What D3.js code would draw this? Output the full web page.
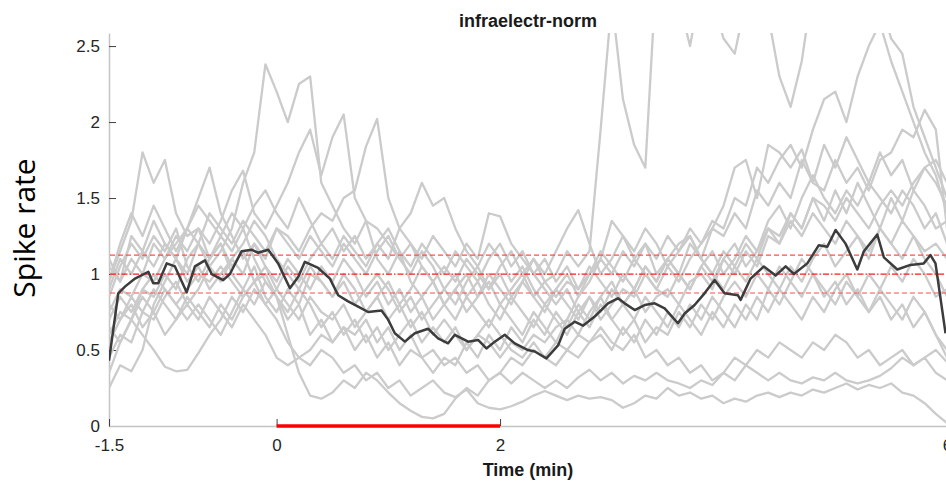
<!DOCTYPE html>
<html>
<head>
<meta charset="utf-8">
<script src="https://cdn.jsdelivr.net/npm/d3@7"></script>
<style>
  body { margin: 0; background: #fff; }
  svg { display: block; }
</style>
</head>
<body>
<div id="chart"></div>
<script>
// time axis in minutes, one gray trace per recorded unit
let xTickValues = [-1.5, 0, 2, 6];
let yTickValues = [0, 0.5, 1, 1.5, 2, 2.5];
let refLevels = [0.875, 1, 1.125];
let stimWindow = [0, 2];

// sample times of the gray traces (every 0.1 min, -1.5 .. 6)
let traceTimes = [
  -1.5, -1.4, -1.3, -1.2, -1.1, -1.0, -0.9, -0.8, -0.7, -0.6,
  -0.5, -0.4, -0.3, -0.2, -0.1, 0.0, 0.1, 0.2, 0.3, 0.4,
  0.5, 0.6, 0.7, 0.8, 0.9, 1.0, 1.1, 1.2, 1.3, 1.4,
  1.5, 1.6, 1.7, 1.8, 1.9, 2.0, 2.1, 2.2, 2.3, 2.4,
  2.5, 2.6, 2.7, 2.8, 2.9, 3.0, 3.1, 3.2, 3.3, 3.4,
  3.5, 3.6, 3.7, 3.8, 3.9, 4.0, 4.1, 4.2, 4.3, 4.4,
  4.5, 4.6, 4.7, 4.8, 4.9, 5.0, 5.1, 5.2, 5.3, 5.4,
  5.5, 5.6, 5.7, 5.8, 5.9, 6.0
];

let trace01 = [
  0.85, 1.05, 1.2, 1.1, 1.25, 1.15, 1.3, 1.05, 0.95, 1.1,
  1.2, 1.0, 0.9, 1.05, 0.85, 0.75, 0.9, 0.8, 1.0, 0.95,
  0.85, 1.0, 0.9, 0.75, 0.85, 0.95, 0.8, 0.9, 1.05, 0.95,
  0.8, 0.9, 1.0, 0.85, 0.95, 0.8, 0.9, 1.0, 0.85, 0.95,
  1.0, 1.15, 1.05, 1.15, 1.95, 2.8, 2.15, 1.85, 1.7, 3.0,
  3.3, 2.8, 2.5, 2.9, 2.8, 2.55, 2.45, 2.8, 3.0, 2.7,
  2.3, 2.1, 2.4, 2.9, 3.2, 3.3, 3.1, 2.9, 2.75, 2.8,
  2.55, 2.45, 2.1, 1.9, 1.7, 1.5
];
let trace02 = [
  0.6, 0.75, 0.7, 0.9, 0.85, 1.0, 0.9, 1.1, 1.2, 1.05,
  1.15, 1.3, 1.6, 1.8, 2.38, 2.2, 2.0, 2.25, 2.3, 1.6,
  1.45, 1.3, 1.2, 1.35, 1.1, 1.0, 1.15, 0.95, 0.85, 0.95,
  0.8, 0.7, 0.85, 0.75, 0.65, 0.8, 0.7, 0.6, 0.75, 0.65,
  0.55, 0.7, 0.6, 0.75, 0.85, 0.7, 0.8, 0.9, 0.75, 0.85,
  0.9, 0.8, 0.95, 1.0, 0.9, 1.1, 1.0, 1.15, 1.05, 1.25,
  1.2, 1.4, 1.3, 1.5, 1.35, 1.55, 1.4, 1.6, 1.45, 1.3,
  1.5, 1.35, 1.55, 1.45, 1.3, 1.35
];
let trace03 = [
  0.95, 1.15, 1.35, 1.8, 1.6, 1.75, 1.4, 1.25, 1.3, 1.1,
  1.2, 1.05, 1.15, 0.95, 1.0, 0.85, 0.7, 0.8, 0.6, 0.7,
  0.55, 0.65, 0.5, 0.6, 0.45, 0.55, 0.4, 0.5, 0.45, 0.35,
  0.45, 0.4, 0.55, 0.45, 0.6, 0.5, 0.65, 0.55, 0.7, 0.6,
  0.75, 0.65, 0.8, 0.7, 0.85, 0.95, 0.8, 0.9, 1.05, 0.95,
  1.1, 1.0, 1.2, 1.1, 1.3, 1.25, 1.4, 1.3, 1.55, 1.45,
  1.6, 1.5, 1.75, 1.6, 1.85, 1.7, 1.9, 1.75, 1.6, 1.8,
  1.65, 1.75, 1.55, 1.7, 1.6, 1.45
];
let trace04 = [
  0.75, 0.9, 0.85, 1.0, 0.95, 1.1, 1.2, 1.3, 1.5, 1.7,
  1.4, 1.25, 1.1, 1.2, 1.05, 0.95, 1.1, 1.0, 0.9, 1.05,
  0.95, 1.1, 1.0, 0.85, 0.95, 0.8, 0.9, 0.75, 0.85, 0.7,
  0.8, 0.9, 0.75, 0.85, 1.0, 0.9, 0.8, 0.95, 0.85, 0.75,
  0.9, 1.0, 0.85, 0.95, 1.1, 1.0, 1.15, 1.05, 1.2, 1.1,
  1.25, 1.15, 1.3, 1.2, 1.35, 1.3, 1.5, 1.45, 1.7, 1.6,
  1.75, 1.85, 1.7, 1.95, 2.15, 2.2, 2.0, 2.3, 2.5, 2.65,
  2.4, 2.2, 2.0, 1.8, 1.65, 1.4
];
let trace05 = [
  1.05, 0.95, 1.1, 1.0, 1.2, 1.1, 1.25, 1.15, 1.3, 1.2,
  1.35, 1.55, 1.68, 1.4, 1.3, 1.45, 1.6, 1.8, 1.95, 1.65,
  1.9, 2.05, 1.5, 1.35, 1.3, 1.2, 1.1, 1.0, 1.15, 1.05,
  0.9, 1.0, 0.85, 0.95, 0.8, 0.7, 0.85, 0.75, 0.65, 0.8,
  0.7, 0.6, 0.75, 0.65, 0.8, 0.7, 0.6, 0.7, 0.55, 0.65,
  0.6, 0.75, 0.65, 0.8, 0.7, 0.85, 0.95, 0.85, 1.0, 0.9,
  1.05, 0.95, 1.1, 1.0, 0.85, 0.95, 0.8, 0.9, 0.75, 0.85,
  0.7, 0.8, 0.65, 0.75, 0.6, 0.45
];
let trace06 = [
  0.45, 0.6, 0.55, 0.75, 0.7, 0.85, 0.95, 0.8, 0.9, 1.05,
  0.95, 1.1, 1.0, 1.2, 1.1, 1.3, 1.25, 1.15, 1.3, 1.4,
  1.35, 1.5, 1.55, 1.84, 2.02, 1.5, 1.3, 1.4, 1.6, 1.45,
  1.5, 1.3, 1.15, 1.05, 1.2, 1.1, 0.95, 1.05, 0.9, 0.8,
  0.9, 0.8, 0.7, 0.85, 0.75, 0.9, 0.8, 0.7, 0.85, 0.75,
  0.65, 0.8, 0.7, 0.6, 0.75, 0.65, 0.8, 0.7, 0.85, 0.75,
  0.9, 0.8, 0.7, 0.85, 0.75, 0.9, 1.0, 0.85, 1.0, 0.9,
  1.05, 0.95, 1.1, 1.0, 0.85, 0.9
];
let trace07 = [
  0.25, 0.4, 0.36, 0.5, 0.8, 0.95, 1.1, 1.0, 1.2, 1.1,
  1.25, 1.15, 1.3, 1.1, 0.95, 0.85, 0.6, 0.35, 0.2, 0.18,
  0.22, 0.3, 0.25, 0.35, 0.3, 0.22, 0.15, 0.1, 0.06, 0.05,
  0.08, 0.18, 0.25, 0.2, 0.3, 0.35, 0.45, 0.4, 0.5, 0.45,
  0.55, 0.5, 0.6, 0.55, 0.65, 0.55, 0.5, 0.6, 0.45, 0.5,
  0.4, 0.45, 0.35, 0.4, 0.3, 0.35, 0.45, 0.4, 0.5, 0.45,
  0.55, 0.5, 0.45, 0.55, 0.5, 0.6, 0.55, 0.45, 0.5, 0.4,
  0.45, 0.5, 0.4, 0.45, 0.35, 0.3
];
let trace08 = [
  0.65, 0.55, 0.7, 0.6, 0.5, 0.39, 0.36, 0.37, 0.48, 0.6,
  0.7, 0.85, 0.75, 0.9, 0.8, 0.7, 0.55, 0.45, 0.4, 0.5,
  0.45, 0.35, 0.4, 0.3, 0.35, 0.25, 0.3, 0.2, 0.25, 0.3,
  0.22, 0.19, 0.24, 0.15, 0.12, 0.11, 0.13, 0.16, 0.2, 0.23,
  0.2, 0.17, 0.2, 0.18, 0.19, 0.17, 0.12, 0.15, 0.2, 0.18,
  0.25, 0.2, 0.22, 0.18, 0.2, 0.15, 0.18, 0.16, 0.2, 0.22,
  0.19, 0.22, 0.2, 0.24, 0.22, 0.25, 0.28, 0.24, 0.27, 0.25,
  0.28, 0.22, 0.2, 0.15, 0.08, 0.02
];
let trace09 = [
  0.9, 1.1, 1.0, 1.15, 1.05, 1.2, 1.1, 0.95, 1.05, 0.9,
  1.0, 1.1, 1.2, 1.35, 1.25, 1.1, 1.0, 0.9, 1.05, 0.95,
  0.85, 0.95, 0.8, 0.9, 1.0, 0.9, 0.75, 0.85, 0.7, 0.8,
  0.9, 0.8, 0.95, 1.05, 0.9, 1.0, 0.85, 0.95, 1.1, 1.0,
  1.15, 1.3, 1.42, 1.2, 1.0, 1.1, 1.25, 1.15, 1.3, 1.2,
  1.05, 1.15, 1.25, 1.1, 1.0, 0.9, 1.05, 0.95, 1.1, 1.0,
  0.9, 1.05, 0.95, 1.1, 1.2, 1.05, 1.15, 1.25, 1.1, 1.3,
  1.2, 1.1, 1.25, 1.15, 1.2, 1.1
];
let trace10 = [
  0.8, 0.7, 0.85, 0.75, 0.9, 0.8, 0.7, 0.85, 0.75, 0.65,
  0.8, 0.7, 0.85, 0.95, 0.8, 0.9, 1.05, 0.95, 1.1, 1.2,
  1.1, 1.25, 1.15, 1.05, 1.2, 1.1, 1.3, 1.2, 1.1, 1.25,
  1.15, 1.05, 1.2, 1.1, 1.4, 1.38, 1.2, 1.1, 1.0, 0.9,
  0.8, 0.9, 0.75, 0.85, 0.7, 0.8, 0.9, 0.85, 1.0, 0.9,
  1.05, 0.95, 1.1, 1.2, 1.3, 1.45, 1.7, 1.75, 1.5, 1.85,
  1.8, 1.7, 1.82, 1.6, 1.55, 1.75, 1.6, 1.7, 1.55, 1.75,
  1.8, 1.95, 1.9, 2.08, 1.95, 1.3
];
let trace11 = [
  0.55, 0.7, 0.8, 0.65, 0.75, 0.6, 0.7, 0.8, 0.7, 0.85,
  0.75, 0.65, 0.8, 0.7, 0.6, 0.45, 0.4, 0.45, 0.5, 0.6,
  0.55, 0.65, 0.6, 0.7, 0.55, 0.65, 0.5, 0.6, 0.45, 0.5,
  0.4, 0.45, 0.35, 0.4, 0.3, 0.35, 0.28, 0.35, 0.3, 0.25,
  0.3, 0.25, 0.32, 0.37, 0.3, 0.35, 0.28, 0.33, 0.3, 0.35,
  0.3, 0.28, 0.25, 0.3, 0.27, 0.35, 0.3, 0.4, 0.35, 0.3,
  0.35, 0.3, 0.28, 0.32, 0.3, 0.35, 0.3, 0.28, 0.3, 0.33,
  0.38, 0.45, 0.4, 0.45, 0.5, 0.42
];
let trace12 = [
  0.7, 0.85, 0.75, 0.9, 1.0, 0.9, 0.8, 0.9, 1.0, 0.95,
  1.05, 0.95, 0.85, 0.95, 1.05, 0.9, 0.8, 0.7, 0.85, 0.75,
  0.7, 0.8, 0.65, 0.75, 0.85, 0.7, 0.8, 0.65, 0.75, 0.6,
  0.7, 0.6, 0.5, 0.6, 0.55, 0.45, 0.55, 0.5, 0.6, 0.55,
  0.65, 0.7, 0.85, 1.0, 1.1, 1.35, 1.25, 1.1, 1.2, 1.0,
  1.1, 1.2, 1.25, 1.1, 1.0, 1.15, 1.05, 1.2, 1.1, 1.3,
  1.25, 1.4, 1.3, 1.5, 1.45, 1.35, 1.5, 1.4, 1.3, 1.45,
  1.55, 1.45, 1.6, 1.7, 1.75, 1.6
];
let trace13 = [
  1.1, 0.95, 1.25, 1.15, 1.35, 1.2, 1.1, 1.3, 1.2, 1.4,
  1.3, 1.2, 1.35, 1.25, 1.15, 1.3, 1.2, 1.1, 1.25, 1.15,
  1.05, 1.2, 1.1, 1.0, 1.15, 1.25, 1.1, 1.2, 1.05, 0.95,
  1.05, 0.95, 1.1, 1.0, 0.9, 1.05, 1.15, 1.0, 1.1, 0.95,
  0.85, 0.95, 0.9, 1.05, 0.95, 0.85, 1.0, 0.9, 1.05, 0.95,
  1.1, 1.0, 0.9, 1.05, 0.95, 1.1, 1.2, 1.05, 1.15, 1.3,
  1.2, 1.35, 1.25, 1.4, 1.3, 1.2, 1.35, 1.25, 1.15, 1.3,
  1.2, 1.35, 1.25, 1.1, 1.0, 0.85
];
let trace14 = [
  0.35, 0.55, 0.7, 0.85, 0.75, 0.9, 0.8, 0.7, 0.8, 0.7,
  0.6, 0.75, 0.9, 0.8, 0.95, 0.85, 0.75, 0.9, 0.8, 0.65,
  0.75, 0.6, 0.7, 0.55, 0.65, 0.5, 0.6, 0.7, 0.55, 0.65,
  0.55, 0.65, 0.5, 0.6, 0.7, 0.6, 0.5, 0.45, 0.55, 0.45,
  0.4, 0.5, 0.45, 0.55, 0.6, 0.5, 0.65, 0.55, 0.7, 0.6,
  0.75, 0.65, 0.8, 0.7, 0.85, 0.75, 0.65, 0.8, 0.7, 0.9,
  0.8, 0.95, 0.85, 1.0, 0.9, 0.8, 0.95, 0.85, 0.75, 0.9,
  0.8, 0.7, 0.85, 0.75, 0.6, 0.5
];
let trace15 = [
  0.95, 1.2, 1.4, 1.25, 1.45, 1.3, 1.15, 1.3, 1.45, 1.35,
  1.25, 1.4, 1.3, 1.45, 1.55, 1.4, 1.3, 1.5, 1.35, 1.2,
  1.3, 1.15, 1.25, 1.1, 1.2, 1.3, 1.15, 1.05, 1.2, 1.1,
  1.0, 1.15, 1.05, 0.95, 1.1, 1.2, 1.05, 1.15, 1.0, 1.1,
  0.95, 1.05, 0.9, 1.0, 1.15, 1.05, 0.95, 1.1, 1.0, 0.9,
  0.85, 1.0, 0.9, 1.05, 1.15, 1.0, 1.1, 1.25, 1.15, 1.35,
  1.45, 1.3, 1.5, 1.65, 1.5, 1.4, 1.55, 1.45, 1.6, 1.5,
  1.4, 1.55, 1.45, 1.3, 1.4, 1.2
];
let traces = [trace01, trace02, trace03, trace04, trace05, trace06, trace07, trace08,
              trace09, trace10, trace11, trace12, trace13, trace14, trace15];

// population mean (dark line)
let meanTime = [
  -1.5, -1.417, -1.357, -1.267, -1.148, -1.104, -1.059, -0.984, -0.91, -0.805,
  -0.731, -0.641, -0.581, -0.478, -0.418, -0.313, -0.224, -0.165, -0.075, 0.014,
  0.119, 0.193, 0.253, 0.372, 0.477, 0.551, 0.64, 0.73, 0.819, 0.939,
  0.998, 1.058, 1.148, 1.237, 1.356, 1.445, 1.535, 1.595, 1.714, 1.803,
  1.878, 1.953, 2.042, 2.131, 2.25, 2.31, 2.415, 2.519, 2.579, 2.668,
  2.742, 2.847, 2.966, 3.055, 3.115, 3.205, 3.294, 3.384, 3.473, 3.592,
  3.652, 3.741, 3.83, 3.92, 4.009, 4.129, 4.153, 4.242, 4.361, 4.466,
  4.556, 4.63, 4.75, 4.853, 4.929, 5.003, 5.092, 5.197, 5.256, 5.376,
  5.435, 5.555, 5.673, 5.792, 5.852, 5.897, 5.987
];
let meanRate = [
  0.43, 0.873, 0.917, 0.97, 1.015, 0.94, 0.94, 1.07, 1.05, 0.88,
  1.05, 1.09, 1.0, 0.96, 1.0, 1.15, 1.16, 1.14, 1.16, 1.07,
  0.906, 0.98, 1.08, 1.04, 0.97, 0.86, 0.82, 0.785, 0.75, 0.76,
  0.70, 0.61, 0.555, 0.61, 0.64, 0.577, 0.544, 0.60, 0.555, 0.566,
  0.51, 0.555, 0.60, 0.544, 0.50, 0.49, 0.445, 0.53, 0.64, 0.686,
  0.66, 0.72, 0.807, 0.84, 0.807, 0.763, 0.796, 0.807, 0.774, 0.676,
  0.74, 0.796, 0.873, 0.96, 0.873, 0.86, 0.83, 0.97, 1.05, 0.99,
  1.05, 1.0, 1.07, 1.19, 1.18, 1.29, 1.20, 1.03, 1.15, 1.26,
  1.11, 1.03, 1.06, 1.07, 1.125, 1.07, 0.61
];

let width = 946;
let height = 482;
let plotLeft = 109, plotRight = 947, plotTop = 33, plotBottom = 426;

let svg = d3.select('#chart').append('svg')
  .attr('width', width)
  .attr('height', height)
  .attr('font-family', 'Liberation Sans, Arial, sans-serif');

let x = d3.scaleLinear().domain([-1.5, 6]).range([plotLeft, plotRight]);
let y = d3.scaleLinear().domain([0, 2.586]).range([plotBottom, plotTop]);

svg.append('clipPath').attr('id', 'plotClip')
  .append('rect')
  .attr('x', plotLeft)
  .attr('y', plotTop)
  .attr('width', plotRight - plotLeft)
  .attr('height', plotBottom - plotTop);

// axes
let yAxis = d3.axisLeft(y)
  .tickValues(yTickValues)
  .tickSize(-7)
  .tickSizeOuter(0)
  .tickPadding(9)
  .tickFormat(d => String(d));

let xAxis = d3.axisBottom(x)
  .tickValues(xTickValues)
  .tickSize(-7)
  .tickSizeOuter(0)
  .tickPadding(13)
  .tickFormat(d => String(d));

let gy = svg.append('g')
  .attr('transform', 'translate(' + plotLeft + ',0)')
  .call(yAxis);

let gx = svg.append('g')
  .attr('transform', 'translate(0,' + plotBottom + ')')
  .call(xAxis);

[gx, gy].forEach(function(g) {
  g.select('.domain').attr('stroke', '#c4c4c4').attr('stroke-width', 1.5);
  g.selectAll('.tick line').attr('stroke', '#404040').attr('stroke-width', 1);
  g.selectAll('.tick text')
    .attr('fill', '#262626')
    .attr('font-size', 17)
    .attr('font-family', 'Liberation Sans, Arial, sans-serif');
});

let plot = svg.append('g').attr('clip-path', 'url(#plotClip)');

let traceLine = d3.line()
  .x((d, i) => x(traceTimes[i]))
  .y(d => y(d));

plot.selectAll('path.trace')
  .data(traces)
  .enter().append('path')
  .attr('class', 'trace')
  .attr('d', traceLine)
  .attr('fill', 'none')
  .attr('stroke', '#cbcbcb')
  .attr('stroke-width', 2.3)
  .attr('stroke-linejoin', 'round');

// reference band around baseline
plot.selectAll('line.ref')
  .data(refLevels)
  .enter().append('line')
  .attr('class', 'ref')
  .attr('x1', plotLeft + 1)
  .attr('x2', plotRight)
  .attr('y1', d => y(d))
  .attr('y2', d => y(d))
  .attr('stroke', d => d === 1 ? '#ff1a1a' : '#ff4d4d')
  .attr('stroke-width', 1.2)
  .attr('stroke-dasharray', d => d === 1 ? '6,2,1.5,2' : '5,3');

let meanLine = d3.line()
  .x((d, i) => x(meanTime[i]))
  .y(d => y(d));

plot.append('path')
  .datum(meanRate)
  .attr('d', meanLine)
  .attr('fill', 'none')
  .attr('stroke', '#3c3c3c')
  .attr('stroke-width', 2.5)
  .attr('stroke-linejoin', 'round');

// stimulation period
svg.append('line')
  .attr('x1', x(stimWindow[0]))
  .attr('x2', x(stimWindow[1]))
  .attr('y1', plotBottom)
  .attr('y2', plotBottom)
  .attr('stroke', '#ff0000')
  .attr('stroke-width', 3.5);

// labels
svg.append('text')
  .attr('x', (plotLeft + plotRight) / 2)
  .attr('y', 27)
  .attr('text-anchor', 'middle')
  .attr('font-weight', 'bold')
  .attr('font-size', 18)
  .attr('fill', '#1a1a1a')
  .text('infraelectr-norm');

svg.append('text')
  .attr('x', (plotLeft + plotRight) / 2)
  .attr('y', 476)
  .attr('text-anchor', 'middle')
  .attr('font-weight', 'bold')
  .attr('font-size', 18)
  .attr('fill', '#1a1a1a')
  .text('Time (min)');

svg.append('text')
  .attr('transform', 'translate(35,228) rotate(-90)')
  .attr('text-anchor', 'middle')
  .attr('font-family', 'Open Sans, sans-serif')
  .attr('font-size', 30)
  .attr('fill', '#000')
  .text('Spike rate');
</script>
</body>
</html>
